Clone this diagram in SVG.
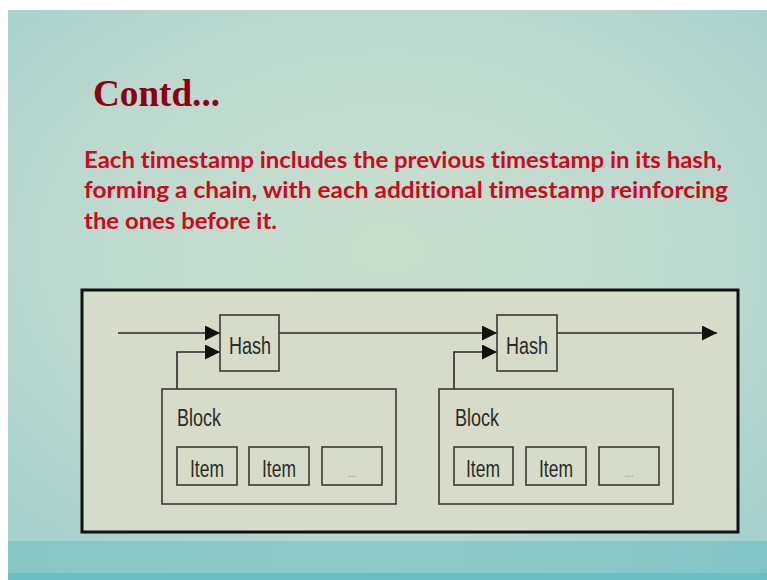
<svg xmlns="http://www.w3.org/2000/svg" width="767" height="580" viewBox="0 0 767 580">
  <defs>
    <radialGradient id="slideBg" cx="0.5" cy="0.45" r="0.7">
      <stop offset="0" stop-color="#c9dfcd"/>
      <stop offset="0.6" stop-color="#bcd9cf"/>
      <stop offset="1" stop-color="#a6d1cc"/>
    </radialGradient>
    <linearGradient id="band" x1="0" y1="0" x2="1" y2="0">
      <stop offset="0" stop-color="#86c6c5"/>
      <stop offset="0.5" stop-color="#8fcbc9"/>
      <stop offset="1" stop-color="#82c4c4"/>
    </linearGradient>
    <marker id="arrow" viewBox="0 0 10 10" refX="10" refY="5" markerWidth="16" markerHeight="15" markerUnits="userSpaceOnUse" orient="auto">
      <path d="M0,0 L10,5 L0,10 z" fill="#111"/>
    </marker>
    <style>
      .box { fill: none; stroke: #3a3a38; stroke-width: 1.6; }
      .wire { fill: none; stroke: #2a2a2a; stroke-width: 1.6; }
      .lbl { font-family: "Liberation Sans", Arial, sans-serif; font-size: 23px; fill: #2b2b2b; }
      .dots { font-family: "Liberation Sans", Arial, sans-serif; font-size: 11px; fill: #8a8a8a; text-anchor: middle; }
      .body { font-family: Lato, "Open Sans", sans-serif; font-weight: bold; font-size: 22px; fill: #cc0a1e; font-variant-ligatures: none; }
    </style>
  </defs>

  <!-- page -->
  <rect x="0" y="0" width="767" height="580" fill="#ffffff"/>
  <rect x="8" y="10" width="759" height="531" fill="url(#slideBg)"/>
  <rect x="8" y="541" width="759" height="32" fill="url(#band)"/>
  <rect x="8" y="573" width="759" height="7" fill="#6cbcc3"/>

  <!-- heading and description -->
  <text x="93" y="106" font-family="Liberation Serif, serif" font-weight="bold" font-size="38" fill="#8e0014" textLength="127" lengthAdjust="spacingAndGlyphs">Contd...</text>
  <text class="body" x="84" y="168" textLength="638" lengthAdjust="spacingAndGlyphs">Each timestamp includes the previous timestamp in its hash,</text>
  <text class="body" x="84" y="198" textLength="644" lengthAdjust="spacingAndGlyphs">forming a chain, with each additional timestamp reinforcing</text>
  <text class="body" x="84" y="229" textLength="193" lengthAdjust="spacingAndGlyphs">the ones before it.</text>

  <!-- figure frame -->
  <rect x="82" y="290" width="656" height="242" fill="#d6dbca" stroke="#111" stroke-width="3"/>

  <!-- connectors -->
  <g id="connectors">
    <line class="wire" x1="118" y1="333" x2="220" y2="333" marker-end="url(#arrow)"/>
    <polyline class="wire" points="177,389 177,352 220,352" marker-end="url(#arrow)"/>
    <line class="wire" x1="279" y1="333" x2="497" y2="333" marker-end="url(#arrow)"/>
    <polyline class="wire" points="454,389 454,352 497,352" marker-end="url(#arrow)"/>
    <line class="wire" x1="557" y1="333" x2="717" y2="333" marker-end="url(#arrow)"/>
  </g>

  <!-- first stage -->
  <g id="hash1">
    <rect class="box" x="220" y="315" width="59" height="56"/>
    <text class="lbl" x="229" y="354" textLength="42" lengthAdjust="spacingAndGlyphs">Hash</text>
  </g>
  <g id="block1">
    <rect class="box" x="162" y="389" width="234" height="115"/>
    <text class="lbl" x="177" y="426" textLength="44" lengthAdjust="spacingAndGlyphs">Block</text>
  </g>
  <g id="item1a">
    <rect class="box" x="177" y="447" width="60" height="38"/>
    <text class="lbl" x="190" y="477" textLength="34" lengthAdjust="spacingAndGlyphs">Item</text>
  </g>
  <g id="item1b">
    <rect class="box" x="249" y="447" width="60" height="38"/>
    <text class="lbl" x="262" y="477" textLength="34" lengthAdjust="spacingAndGlyphs">Item</text>
  </g>
  <g id="item1c">
    <rect class="box" x="322" y="447" width="60" height="38"/>
    <text class="dots" x="352" y="477">...</text>
  </g>

  <!-- second stage -->
  <g id="hash2">
    <rect class="box" x="497" y="315" width="60" height="56"/>
    <text class="lbl" x="506" y="354" textLength="42" lengthAdjust="spacingAndGlyphs">Hash</text>
  </g>
  <g id="block2">
    <rect class="box" x="439" y="389" width="234" height="115"/>
    <text class="lbl" x="455" y="426" textLength="44" lengthAdjust="spacingAndGlyphs">Block</text>
  </g>
  <g id="item2a">
    <rect class="box" x="454" y="447" width="59" height="38"/>
    <text class="lbl" x="466" y="477" textLength="34" lengthAdjust="spacingAndGlyphs">Item</text>
  </g>
  <g id="item2b">
    <rect class="box" x="526" y="447" width="60" height="38"/>
    <text class="lbl" x="539" y="477" textLength="34" lengthAdjust="spacingAndGlyphs">Item</text>
  </g>
  <g id="item2c">
    <rect class="box" x="599" y="447" width="60" height="38"/>
    <text class="dots" x="629" y="477">...</text>
  </g>
</svg>
